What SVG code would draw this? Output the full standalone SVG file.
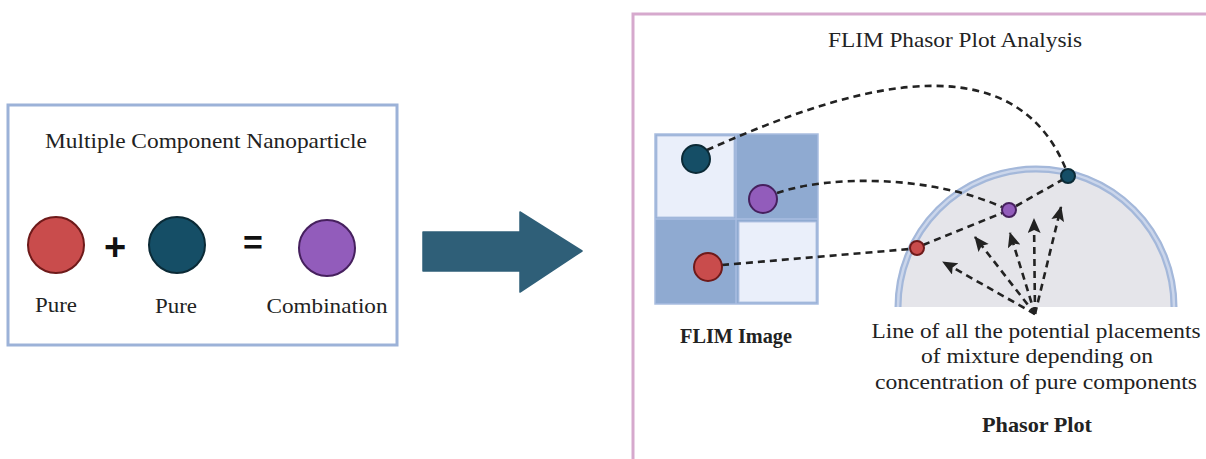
<svg xmlns="http://www.w3.org/2000/svg" width="1206" height="459" viewBox="0 0 1206 459">
<style>
.t{font-family:"Liberation Serif","DejaVu Serif",serif;fill:#222;font-size:21px;text-anchor:middle}
.b{font-weight:bold}
.dash{fill:none;stroke:#222;stroke-width:2.6;stroke-dasharray:7 5}
.red{fill:#c94c4c;stroke:#6e1a1a;stroke-width:2}
.blue{fill:#154e66;stroke:#0b2a36;stroke-width:2}
.purple{fill:#925cbb;stroke:#46205e;stroke-width:2}
.sym{font-family:"Liberation Sans","DejaVu Sans",sans-serif;font-weight:bold;fill:#111;text-anchor:middle}
</style>
<defs>
<marker id="ah" markerUnits="userSpaceOnUse" markerWidth="16" markerHeight="14" refX="14" refY="6.5" orient="auto">
<path d="M0,0 L15,6.5 L0,13 L3,6.5 z" fill="#222"/>
</marker>
</defs>
<rect width="1206" height="459" fill="#fff"/>

<g id="left-panel">
<rect x="8" y="105" width="389" height="240" fill="#fff" stroke="#9cb2d8" stroke-width="3"/>
<text class="t" x="206" y="148" textLength="322" lengthAdjust="spacingAndGlyphs">Multiple Component Nanoparticle</text>
</g>
<g id="pure-red">
<circle class="red" cx="56" cy="245" r="28"/>
<text class="t" x="56" y="312" textLength="42" lengthAdjust="spacingAndGlyphs">Pure</text>
</g>
<text class="sym" x="115" y="260" font-size="38">+</text>
<g id="pure-blue">
<circle class="blue" cx="177" cy="245" r="28"/>
<text class="t" x="176" y="313" textLength="42" lengthAdjust="spacingAndGlyphs">Pure</text>
</g>
<text class="sym" x="253" y="254" font-size="34">=</text>
<g id="combination">
<circle class="purple" cx="327" cy="248" r="28"/>
<text class="t" x="327" y="313" textLength="121" lengthAdjust="spacingAndGlyphs">Combination</text>
</g>

<g id="big-arrow">
<path d="M423,232 L520,232 L520,212 L582,251 L520,292 L520,271 L423,271 z" fill="#2f5f78" stroke="#2f5f78" stroke-width="1.5" stroke-linejoin="round"/>
</g>

<g id="right-panel">
<rect x="633" y="14" width="620" height="500" fill="#fff" stroke="#d6a9cd" stroke-width="3"/>
<text class="t" x="955" y="47" textLength="254" lengthAdjust="spacingAndGlyphs">FLIM Phasor Plot Analysis</text>
</g>

<g id="flim-image">
<rect x="655" y="134" width="163" height="170" fill="#8faad1" stroke="#a9bde0" stroke-width="1.5"/>
<line x1="736" y1="134" x2="736" y2="304" stroke="#a9bde0" stroke-width="1.5"/>
<line x1="655" y1="219" x2="818" y2="219" stroke="#a9bde0" stroke-width="1.5"/>
<rect x="657" y="136" width="77" height="81" fill="#eaeffa" stroke="#b3c4e4" stroke-width="1"/>
<rect x="739" y="222" width="77" height="80" fill="#eaeffa" stroke="#b3c4e4" stroke-width="1"/>
<text class="t b" x="736" y="343" textLength="112" lengthAdjust="spacingAndGlyphs">FLIM Image</text>
</g>

<g id="phasor-plot">
<path d="M895,307 A141,141 0 0 1 1177,307 Z" fill="#e5e5ea"/>
<path d="M898,307 A138,138 0 0 1 1174,307" fill="none" stroke="#a4b8da" stroke-width="7"/>
<path d="M898,307 A138,138 0 0 1 1174,307" fill="none" stroke="#cbd6eb" stroke-width="2.5"/>
<text class="t b" x="1037" y="432" textLength="110" lengthAdjust="spacingAndGlyphs">Phasor Plot</text>
</g>

<g id="connectors">
<path class="dash" d="M707,150 C820,100 1010,25 1067,172"/>
<path class="dash" d="M777,193 C830,175 930,175 1002,207"/>
<path class="dash" d="M722,265 L910,249"/>
<path class="dash" d="M923,245 L1002,213"/>
<path class="dash" d="M1016,206 L1062,180"/>
<path class="dash" marker-end="url(#ah)" d="M1035,314 L943,262"/>
<path class="dash" marker-end="url(#ah)" d="M1035,314 L975,237"/>
<path class="dash" marker-end="url(#ah)" d="M1035,314 L1010,233"/>
<path class="dash" marker-end="url(#ah)" d="M1035,314 L1034,219"/>
<path class="dash" marker-end="url(#ah)" d="M1035,314 L1061,207"/>
</g>

<g id="flim-dots">
<circle class="blue" cx="696" cy="159" r="14"/>
<circle class="purple" cx="763" cy="199" r="14"/>
<circle class="red" cx="708" cy="267" r="14"/>
</g>
<g id="phasor-dots">
<circle class="blue" cx="1068" cy="176" r="7"/>
<circle class="purple" cx="1009" cy="210" r="7"/>
<circle class="red" cx="917" cy="248" r="7"/>
</g>

<g id="note">
<text class="t" x="1036" y="338" textLength="329" lengthAdjust="spacingAndGlyphs">Line of all the potential placements</text>
<text class="t" x="1037" y="363" textLength="232" lengthAdjust="spacingAndGlyphs">of mixture depending on</text>
<text class="t" x="1036" y="389" textLength="322" lengthAdjust="spacingAndGlyphs">concentration of pure components</text>
</g>
</svg>
